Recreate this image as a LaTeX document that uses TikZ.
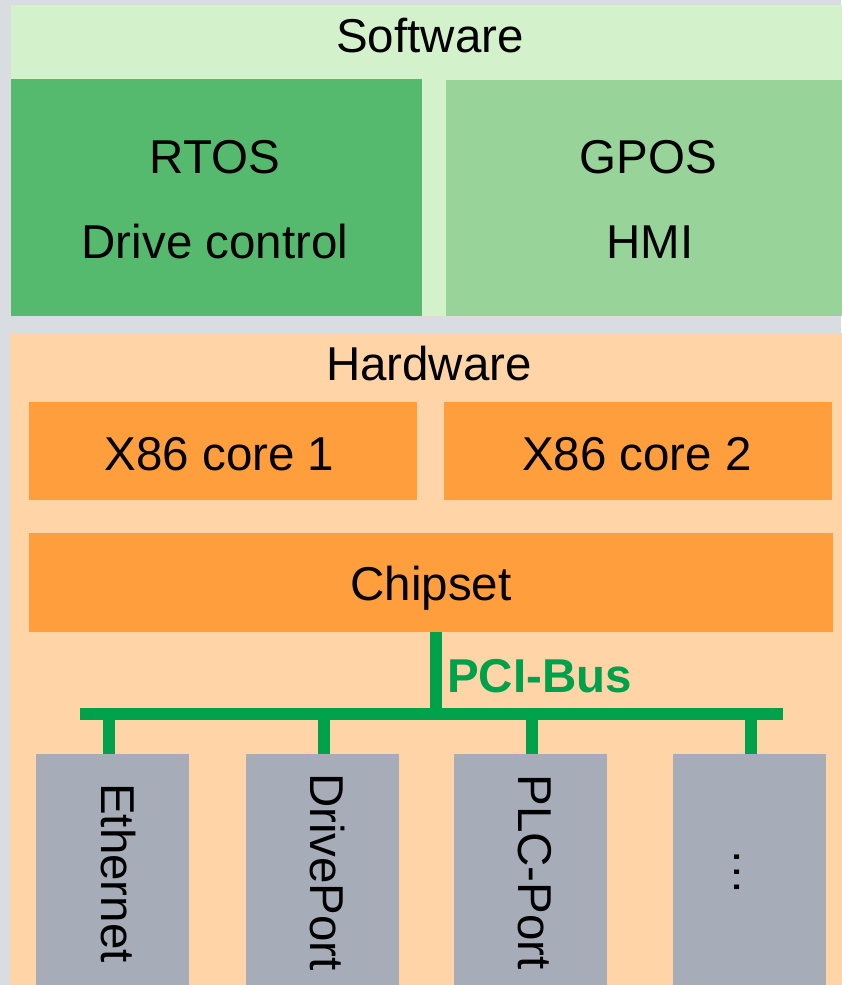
\documentclass[tikz,border=0pt]{standalone}
\usepackage{fontspec}
\setmainfont{Liberation Sans}
\definecolor{bggrey}{HTML}{D9DCE1}
\definecolor{swgreen}{HTML}{D3F2CC}
\definecolor{rtosgreen}{HTML}{55BA6E}
\definecolor{gposgreen}{HTML}{98D399}
\definecolor{peach}{HTML}{FFD5A8}
\definecolor{orangebox}{HTML}{FF9E3D}
\definecolor{busgreen}{HTML}{00A14B}
\definecolor{portgrey}{HTML}{A6ADB9}
\tikzset{
  panel/.style={draw=none, inner sep=0pt, outer sep=0pt},
  lbl/.style={anchor=base, inner sep=0pt, font=\fontsize{47.5}{57}\selectfont},
  vlbl/.style={rotate=-90, inner sep=0pt, text height=0.66em, text depth=0pt, font=\fontsize{47.5}{57}\selectfont},
  bus/.style={draw=busgreen, line width=12pt, line cap=butt}
}
\begin{document}
\begin{tikzpicture}[x=1pt,y=-1pt]
\useasboundingbox (0,0) rectangle (841,985);
\fill[bggrey] (0,0) rectangle (841,985);
% Software panel
\node[panel, fill=swgreen, minimum width=835pt, minimum height=311pt] (sw) at (428.5,160.5) {};
\node[panel, fill=rtosgreen, minimum width=411pt, minimum height=237pt] (rtos) at (216.5,197.5) {};
\node[panel, fill=gposgreen, minimum width=400pt, minimum height=236pt] (gpos) at (646,198) {};
\node[lbl] (swt) at (430,52) {Software};
\node[lbl] (rtost) at (215,173) {RTOS};
\node[lbl] (drvt) at (215,258) {Drive control};
\node[lbl] (gpost) at (648.5,173) {GPOS};
\node[lbl] (hmit) at (650,258) {HMI};
% Hardware panel
\node[panel, fill=peach, minimum width=836pt, minimum height=657pt] (hw) at (428,661.5) {};
\node[lbl] (hwt) at (429,380) {Hardware};
\node[panel, fill=orangebox, minimum width=388pt, minimum height=98pt] (core1) at (223,451) {};
\node[panel, fill=orangebox, minimum width=388pt, minimum height=98pt] (core2) at (638,451) {};
\node[lbl] (c1t) at (219.5,470) {X86 core 1};
\node[lbl] (c2t) at (637,470) {X86 core 2};
\node[panel, fill=orangebox, minimum width=804pt, minimum height=99pt] (chip) at (431,582.5) {};
\node[lbl] (chipt) at (431,600) {Chipset};
% ports
\node[panel, fill=portgrey, minimum width=153pt, minimum height=236pt] (eth) at (112.5,872) {};
\node[panel, fill=portgrey, minimum width=153pt, minimum height=236pt] (drp) at (322.5,872) {};
\node[panel, fill=portgrey, minimum width=153pt, minimum height=236pt] (plc) at (530.5,872) {};
\node[panel, fill=portgrey, minimum width=153pt, minimum height=236pt] (dots) at (749.5,872) {};
\node[vlbl] (etht) at (105,873) {Ethernet};
\node[vlbl] (drpt) at (314,872) {DrivePort};
\node[vlbl] (plct) at (522,872) {PLC-Port};
\node[vlbl] (dotst) at (738,872) {…};
% bus
\coordinate (busT) at (436,714);
\coordinate (busL) at (80,714);
\coordinate (busR) at (783,714);
\draw[bus] (chip.south -| busT) -- ([yshift=-6pt]busT);
\draw[bus] (busL) -- (busR);
\draw[bus] ([xshift=-3.5pt]eth.north) -- ([xshift=-3.5pt]eth.north |- busT);
\draw[bus] ([xshift=1.5pt]drp.north) -- ([xshift=1.5pt]drp.north |- busT);
\draw[bus] ([xshift=1.5pt]plc.north) -- ([xshift=1.5pt]plc.north |- busT);
\draw[bus] ([xshift=1.5pt]dots.north) -- ([xshift=1.5pt]dots.north |- busT);
\node[anchor=base west, inner sep=0pt, text=busgreen, font=\fontsize{47.5}{57}\selectfont\bfseries] (pcit) at (447,692) {PCI-Bus};
\end{tikzpicture}
\end{document}
